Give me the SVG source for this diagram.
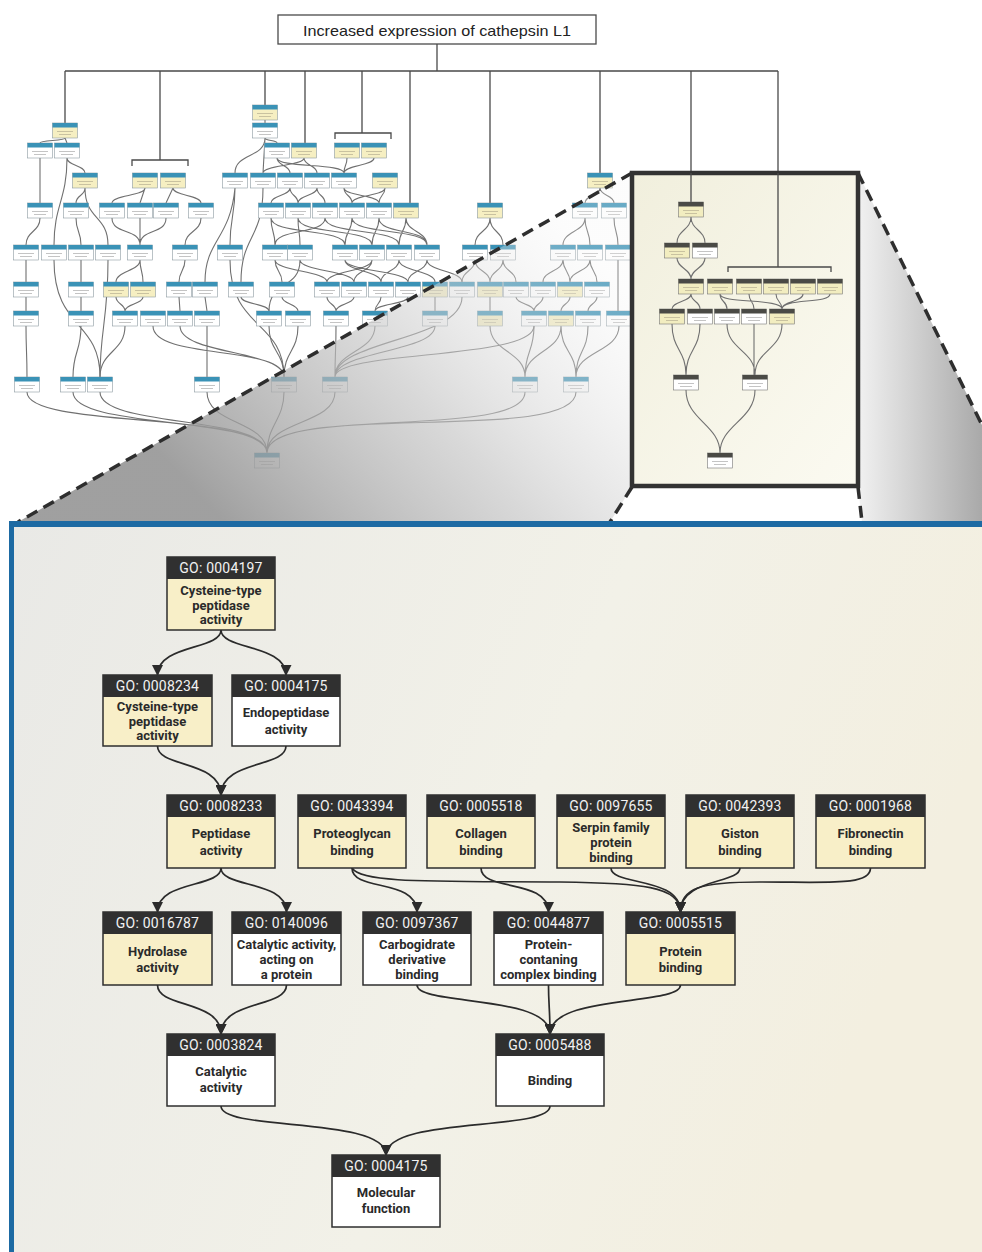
<svg xmlns="http://www.w3.org/2000/svg" xmlns:xlink="http://www.w3.org/1999/xlink" width="982" height="1252" viewBox="0 0 982 1252">
<style>
.ov{fill:none;stroke:#707070;stroke-width:1.1}
.tl{fill:none;stroke:#4a4a4a;stroke-width:1.3}
.cn{fill:none;stroke:#2b2b2b;stroke-width:1.7;marker-end:url(#ah)}
.hd{fill:#303030}
.by{fill:#f8efc8;stroke:#2e2e2e;stroke-width:1.5}
.bw{fill:#ffffff;stroke:#2e2e2e;stroke-width:1.5}
.ht{font-family:Roboto,"Liberation Sans",sans-serif;font-size:14px;fill:#f2f2f2;text-anchor:middle;dominant-baseline:central;letter-spacing:0.2px}
.bt{font-family:Roboto,"Liberation Sans",sans-serif;font-size:13px;font-weight:bold;fill:#2a2a2a;text-anchor:middle;dominant-baseline:central}
.dash{fill:none;stroke:#2e2e2e;stroke-width:3.5;stroke-dasharray:12 7}
</style>
<defs>
<marker id="ah" markerUnits="userSpaceOnUse" markerWidth="11" markerHeight="11" refX="10" refY="5.5" orient="auto"><path d="M0,0 L11,5.5 L0,11 z" fill="#2b2b2b"/></marker>
<g id="mw"><rect x="-12.5" y="0" width="25" height="15" fill="#ffffff" stroke="#8c9aa0" stroke-width="0.6"/><rect x="-12.5" y="0" width="25" height="4.5" fill="#3a92b6"/><path d="M-8 8.5h16M-6 11.5h12" stroke="#c4c4c4" stroke-width="1"/></g>
<g id="my"><rect x="-12.5" y="0" width="25" height="15" fill="#f6efc2" stroke="#8c9aa0" stroke-width="0.6"/><rect x="-12.5" y="0" width="25" height="4.5" fill="#3a92b6"/><path d="M-8 8.5h16M-6 11.5h12" stroke="#c9c2a0" stroke-width="1"/></g>
<g id="iw"><rect x="-12.5" y="0" width="25" height="15" fill="#ffffff" stroke="#777" stroke-width="0.6"/><rect x="-12.5" y="0" width="25" height="4.5" fill="#4a4a45"/><path d="M-8 8.5h16M-6 11.5h12" stroke="#c4c4c4" stroke-width="1"/></g>
<g id="iy"><rect x="-12.5" y="0" width="25" height="15" fill="#f2edc0" stroke="#777" stroke-width="0.6"/><rect x="-12.5" y="0" width="25" height="4.5" fill="#4a4a45"/><path d="M-8 8.5h16M-6 11.5h12" stroke="#c9c2a0" stroke-width="1"/></g>
<linearGradient id="gl" gradientUnits="userSpaceOnUse" x1="590" y1="250" x2="260" y2="560"><stop offset="0" stop-color="#f4f4f4" stop-opacity="0.25"/><stop offset="0.5" stop-color="#c4c4c4" stop-opacity="0.65"/><stop offset="1" stop-color="#8f8f8f" stop-opacity="0.85"/></linearGradient>
<linearGradient id="gr" gradientUnits="userSpaceOnUse" x1="860" y1="0" x2="982" y2="0"><stop offset="0" stop-color="#f0f0f0"/><stop offset="1" stop-color="#a9a9a9"/></linearGradient>
<linearGradient id="gi" x1="0" y1="0" x2="1" y2="1"><stop offset="0" stop-color="#f1efdd"/><stop offset="1" stop-color="#fbfaf1"/></linearGradient>
<linearGradient id="gp" x1="0" y1="0" x2="1" y2="0.3"><stop offset="0" stop-color="#e9e9e6"/><stop offset="0.6" stop-color="#f2f1e8"/><stop offset="1" stop-color="#f3efe0"/></linearGradient>
</defs>
<rect x="0" y="0" width="982" height="1252" fill="#ffffff"/>

<!-- overview -->
<g id="title">
<rect x="278" y="15" width="318" height="29" fill="#ffffff" stroke="#4a4a4a" stroke-width="1.3"/>
<text x="437" y="30" font-family="'Liberation Sans',Arial,sans-serif" font-size="15" fill="#222" text-anchor="middle" dominant-baseline="central" textLength="268" lengthAdjust="spacingAndGlyphs">Increased expression of cathepsin L1</text>
</g>
<g id="overview-tree">
<path class="tl" d="M437 44V71M65 71H778M65 71V123M160 71V160M132 166V160H188V166M265 71V105M305 71V143M362 71V133M335 139V133H391V139M410 71V203M490 71V203M600 71V173M691 71V202M778 71V267M728 272V267H831V272"/>
</g>
<g id="overview-connectors">
<path class="ov" d="M65 138C65 141 40 140 40 143M65 138L67 143M40 158V203M67 158C67 166 85 165 85 173M67 158C67 200 54 205 54 245M85 188C85 196 76 195 76 203M85 188C85 220 108 215 108 245M40 218C40 232 26 231 26 245M76 218C76 232 81 231 81 245M26 260V282M26 297V311M26 326C26 350 27 352 27 377M81 260V282M81 297V311M81 326C81 352 73 351 73 377M54 260C54 330 100 320 100 377M108 260C108 320 100 330 100 377"/>
<path class="ov" d="M145 188C145 196 112 195 112 203M145 188L140 203M173 188L166 203M173 188C173 196 201 195 201 203M112 218C112 235 140 228 140 245M140 218V245M166 218C166 235 140 228 140 245M201 218C201 232 185 231 185 245M140 260C140 271 143 271 143 282M140 260C140 271 116 271 116 282M185 260C185 271 179 271 179 282M116 297C116 304 125 304 125 311M143 297C143 304 125 304 125 311M179 297L180 311M205 297L207 311M125 326C125 352 100 351 100 377M153 326C153 360 284 345 284 377M180 326C180 355 284 350 284 377M207 326V377"/>
<path class="ov" d="M265 120V123M265 138C265 158 235 153 235 173M265 138L263 173M265 138C265 141 277 140 277 143M277 158C277 166 290 165 290 173M277 158C277 168 344 163 344 173M304 158C304 166 317 165 317 173M304 158C304 166 263 165 263 173M347 158C347 166 344 165 344 173M374 158C374 166 344 165 344 173M235 188C235 216 230 217 230 245M235 188C230 240 205 240 205 282M263 188C263 240 241 235 241 282M290 188C290 196 271 195 271 203M290 188C290 196 298 195 298 203M317 188C317 196 298 195 298 203M317 188C317 196 325 195 325 203M344 188C344 196 352 195 352 203M344 188C344 196 379 195 379 203M385 188C385 196 379 195 379 203M385 188C385 196 352 195 352 203"/>
<path class="ov" d="M271 218C271 232 275 231 275 245M271 218C271 235 345 228 345 245M298 218C298 232 300 231 300 245M298 218C298 235 372 228 372 245M325 218C325 235 275 228 275 245M325 218C325 235 399 228 399 245M352 218C352 232 345 231 345 245M352 218C352 235 427 228 427 245M379 218C379 232 372 231 372 245M379 218C379 235 427 228 427 245M406 218C406 232 399 231 399 245M406 218C406 232 427 231 427 245M230 260C230 330 284 320 284 377M275 260C275 271 282 271 282 282M275 260C275 271 327 271 327 282M300 260C300 271 354 271 354 282M300 260C300 290 269 280 269 311M345 260C345 271 381 271 381 282M345 260C345 271 408 271 408 282M372 260C372 271 327 271 327 282M372 260C372 271 354 271 354 282M399 260C399 271 381 271 381 282M399 260C399 271 435 271 435 282M427 260C427 271 462 271 462 282M427 260C427 271 408 271 408 282"/>
<path class="ov" d="M241 297C241 304 269 304 269 311M282 297C282 304 298 304 298 311M327 297C327 304 336 304 336 311M354 297C354 304 336 304 336 311M381 297C381 304 375 304 375 311M408 297C408 304 375 304 375 311M435 297V311M462 297C462 340 335 340 335 377M269 326C269 352 284 351 284 377M298 326C298 352 284 351 284 377M336 326C336 352 335 351 335 377M375 326C375 352 335 351 335 377M435 326C435 352 335 351 335 377M534 326C534 360 335 350 335 377"/>
<path class="ov" d="M490 218C490 232 475 231 475 245M490 218C490 232 503 231 503 245M475 260C475 271 462 271 462 282M475 260C475 271 490 271 490 282M503 260C503 271 490 271 490 282M503 260C503 271 516 271 516 282M490 297V311M516 297C516 304 534 304 534 311M600 188C600 196 585 195 585 203M600 188C600 196 614 195 614 203M585 218C585 232 563 231 563 245M585 218C585 232 590 231 590 245M614 218C614 232 618 231 618 245M563 260C563 271 543 271 543 282M563 260C563 271 570 271 570 282M590 260C590 271 570 271 570 282M590 260C590 271 597 271 597 282M618 260V311M543 297C543 304 534 304 534 311M570 297C570 304 561 304 561 311M597 297C597 304 588 304 588 311M490 326C490 352 525 351 525 377M534 326C534 352 525 351 525 377M561 326C561 352 525 351 525 377M561 326C561 352 576 351 576 377M588 326C588 352 576 351 576 377M619 326C619 352 576 351 576 377"/>
<path class="ov" d="M27 392C27 430 267 410 267 453M73 392C73 430 267 415 267 453M100 392C100 428 267 415 267 453M207 392C207 425 267 420 267 453M284 392C284 420 267 425 267 453M335 392C335 425 267 420 267 453M525 392C525 440 267 405 267 453M576 392C576 445 267 400 267 453"/>
</g>
<g id="overview-nodes">
<use href="#my" x="265" y="105"/><use href="#my" x="65" y="123"/><use href="#mw" x="265" y="123"/>
<use href="#mw" x="40" y="143"/><use href="#mw" x="67" y="143"/><use href="#mw" x="277" y="143"/><use href="#my" x="304" y="143"/><use href="#my" x="347" y="143"/><use href="#my" x="374" y="143"/>
<use href="#my" x="85" y="173"/><use href="#my" x="145" y="173"/><use href="#my" x="173" y="173"/><use href="#mw" x="235" y="173"/><use href="#mw" x="263" y="173"/><use href="#mw" x="290" y="173"/><use href="#mw" x="317" y="173"/><use href="#mw" x="344" y="173"/><use href="#my" x="385" y="173"/><use href="#my" x="600" y="173"/>
<use href="#mw" x="40" y="203"/><use href="#mw" x="76" y="203"/><use href="#mw" x="112" y="203"/><use href="#mw" x="140" y="203"/><use href="#mw" x="166" y="203"/><use href="#mw" x="201" y="203"/><use href="#mw" x="271" y="203"/><use href="#mw" x="298" y="203"/><use href="#mw" x="325" y="203"/><use href="#mw" x="352" y="203"/><use href="#mw" x="379" y="203"/><use href="#my" x="406" y="203"/><use href="#my" x="490" y="203"/><use href="#mw" x="585" y="203"/><use href="#mw" x="614" y="203"/>
<use href="#mw" x="26" y="245"/><use href="#mw" x="54" y="245"/><use href="#mw" x="81" y="245"/><use href="#mw" x="108" y="245"/><use href="#mw" x="140" y="245"/><use href="#mw" x="185" y="245"/><use href="#mw" x="230" y="245"/><use href="#mw" x="275" y="245"/><use href="#mw" x="300" y="245"/><use href="#mw" x="345" y="245"/><use href="#mw" x="372" y="245"/><use href="#mw" x="399" y="245"/><use href="#mw" x="427" y="245"/><use href="#mw" x="475" y="245"/><use href="#mw" x="503" y="245"/><use href="#mw" x="563" y="245"/><use href="#mw" x="590" y="245"/><use href="#mw" x="618" y="245"/>
<use href="#mw" x="26" y="282"/><use href="#mw" x="81" y="282"/><use href="#my" x="116" y="282"/><use href="#my" x="143" y="282"/><use href="#mw" x="179" y="282"/><use href="#mw" x="205" y="282"/><use href="#mw" x="241" y="282"/><use href="#mw" x="282" y="282"/><use href="#mw" x="327" y="282"/><use href="#mw" x="354" y="282"/><use href="#mw" x="381" y="282"/><use href="#mw" x="408" y="282"/><use href="#my" x="435" y="282"/><use href="#mw" x="462" y="282"/><use href="#my" x="490" y="282"/><use href="#mw" x="516" y="282"/><use href="#mw" x="543" y="282"/><use href="#my" x="570" y="282"/><use href="#mw" x="597" y="282"/>
<use href="#mw" x="26" y="311"/><use href="#mw" x="81" y="311"/><use href="#mw" x="125" y="311"/><use href="#mw" x="153" y="311"/><use href="#mw" x="180" y="311"/><use href="#mw" x="207" y="311"/><use href="#mw" x="269" y="311"/><use href="#mw" x="298" y="311"/><use href="#mw" x="336" y="311"/><use href="#mw" x="375" y="311"/><use href="#mw" x="435" y="311"/><use href="#my" x="490" y="311"/><use href="#mw" x="534" y="311"/><use href="#my" x="561" y="311"/><use href="#mw" x="588" y="311"/><use href="#mw" x="619" y="311"/>
<use href="#mw" x="27" y="377"/><use href="#mw" x="73" y="377"/><use href="#mw" x="100" y="377"/><use href="#mw" x="207" y="377"/><use href="#mw" x="284" y="377"/><use href="#mw" x="335" y="377"/><use href="#mw" x="525" y="377"/><use href="#mw" x="576" y="377"/>
<use href="#mw" x="267" y="453"/>
</g>

<!-- projection shading -->
<g id="projection">
<polygon points="632,173 18,522 610,522 632,487" fill="url(#gl)"/>
<polygon points="858,173 982,425 982,522 862,522 858,487" fill="url(#gr)"/>
<path class="dash" d="M632 173L18 522M632 487L610 522M858 173L982 425M858 487L862 522"/>
</g>

<!-- inset -->
<g id="inset">
<rect x="632" y="173" width="226" height="313" fill="url(#gi)" stroke="#333" stroke-width="4.5"/>
<path class="tl" d="M691 173V202M778 173V267M728 272V267H831V272"/>
<path class="ov" d="M691 217C691 230 677 230 677 243M691 217C691 230 705 230 705 243M677 258C677 268 691 269 691 279M705 258C705 268 691 269 691 279M691 294C691 302 672 301 672 309M691 294C691 302 700 301 700 309M720 294C720 302 727 301 727 309M720 294C720 304 782 298 782 309M749 294C749 302 754 301 754 309M776 294C776 302 782 301 782 309M803 294C803 302 782 301 782 309M830 294C830 304 782 298 782 309M672 324C672 350 686 350 686 375M700 324C700 350 686 350 686 375M727 324C727 350 755 350 755 375M754 324V375M782 324C782 350 755 350 755 375M686 390C686 420 720 425 720 453M755 390C755 420 720 425 720 453"/>
<use href="#iy" x="691" y="202"/>
<use href="#iy" x="677" y="243"/><use href="#iw" x="705" y="243"/>
<use href="#iy" x="691" y="279"/><use href="#iy" x="720" y="279"/><use href="#iy" x="749" y="279"/><use href="#iy" x="776" y="279"/><use href="#iy" x="803" y="279"/><use href="#iy" x="830" y="279"/>
<use href="#iy" x="672" y="309"/><use href="#iw" x="700" y="309"/><use href="#iw" x="727" y="309"/><use href="#iw" x="754" y="309"/><use href="#iy" x="782" y="309"/>
<use href="#iw" x="686" y="375"/><use href="#iw" x="755" y="375"/>
<use href="#iw" x="720" y="453"/>
</g>

<!-- detail panel -->
<g id="panel">
<rect x="10" y="522" width="972" height="730" fill="url(#gp)"/>
<rect x="10" y="521" width="972" height="6" fill="#1d6aa3"/>
<rect x="9" y="521" width="5" height="731" fill="#1d6aa3"/>
</g>

<g id="connectors">
<path class="cn" d="M221 630C221 650 157.5 644 157.5 675"/>
<path class="cn" d="M221 630C221 650 286 644 286 675"/>
<path class="cn" d="M157.5 746C157.5 768 221 760 221 795"/>
<path class="cn" d="M286 746C286 768 221 760 221 795"/>
<path class="cn" d="M221 868C221 888 157.5 880 157.5 912"/>
<path class="cn" d="M221 868C221 888 286.5 880 286.5 912"/>
<path class="cn" d="M352 868C352 892 417 878 417 912"/>
<path class="cn" d="M352 868C362 884 440 881 560 882C640 883 680.5 886 680.5 912"/>
<path class="cn" d="M481 868C481 892 548.5 878 548.5 912"/>
<path class="cn" d="M611 868C611 886 680.5 876 680.5 912"/>
<path class="cn" d="M740 868C740 884 680.5 878 680.5 912"/>
<path class="cn" d="M870.5 868C870.5 886 830 882 760 882C700 882 680.5 888 680.5 912"/>
<path class="cn" d="M157.5 985C157.5 1008 221 1000 221 1034"/>
<path class="cn" d="M286.5 985C286.5 1008 221 1000 221 1034"/>
<path class="cn" d="M417 985C417 1006 550 994 550 1034"/>
<path class="cn" d="M548.5 985C548.5 1005 550 1010 550 1034"/>
<path class="cn" d="M680.5 985C680.5 1006 550 994 550 1034"/>
<path class="cn" d="M221 1106C221 1132 386 1116 386 1155"/>
<path class="cn" d="M550 1106C550 1132 386 1116 386 1155"/>
</g>

<g id="n0004197"><rect class="by" x="167" y="557" width="108" height="73"/><rect class="hd" x="167" y="557" width="108" height="22"/><text class="ht" x="221" y="568">GO: 0004197</text><text class="bt"><tspan x="221" y="590">Cysteine-type</tspan><tspan x="221" y="604.5">peptidase</tspan><tspan x="221" y="619">activity</tspan></text></g>
<g id="n0008234"><rect class="by" x="103" y="675" width="109" height="71"/><rect class="hd" x="103" y="675" width="109" height="22"/><text class="ht" x="157.5" y="686">GO: 0008234</text><text class="bt"><tspan x="157.5" y="706">Cysteine-type</tspan><tspan x="157.5" y="720.5">peptidase</tspan><tspan x="157.5" y="735">activity</tspan></text></g>
<g id="n0004175a"><rect class="bw" x="232" y="675" width="108" height="71"/><rect class="hd" x="232" y="675" width="108" height="22"/><text class="ht" x="286" y="686">GO: 0004175</text><text class="bt"><tspan x="286" y="712">Endopeptidase</tspan><tspan x="286" y="729">activity</tspan></text></g>
<g id="n0008233"><rect class="by" x="167" y="795" width="108" height="73"/><rect class="hd" x="167" y="795" width="108" height="22"/><text class="ht" x="221" y="806">GO: 0008233</text><text class="bt"><tspan x="221" y="833">Peptidase</tspan><tspan x="221" y="850">activity</tspan></text></g>
<g id="n0043394"><rect class="by" x="298" y="795" width="108" height="73"/><rect class="hd" x="298" y="795" width="108" height="22"/><text class="ht" x="352" y="806">GO: 0043394</text><text class="bt"><tspan x="352" y="833">Proteoglycan</tspan><tspan x="352" y="850">binding</tspan></text></g>
<g id="n0005518"><rect class="by" x="427" y="795" width="108" height="73"/><rect class="hd" x="427" y="795" width="108" height="22"/><text class="ht" x="481" y="806">GO: 0005518</text><text class="bt"><tspan x="481" y="833">Collagen</tspan><tspan x="481" y="850">binding</tspan></text></g>
<g id="n0097655"><rect class="by" x="557" y="795" width="108" height="73"/><rect class="hd" x="557" y="795" width="108" height="22"/><text class="ht" x="611" y="806">GO: 0097655</text><text class="bt"><tspan x="611" y="827">Serpin family</tspan><tspan x="611" y="842">protein</tspan><tspan x="611" y="857">binding</tspan></text></g>
<g id="n0042393"><rect class="by" x="686" y="795" width="108" height="73"/><rect class="hd" x="686" y="795" width="108" height="22"/><text class="ht" x="740" y="806">GO: 0042393</text><text class="bt"><tspan x="740" y="833">Giston</tspan><tspan x="740" y="850">binding</tspan></text></g>
<g id="n0001968"><rect class="by" x="816" y="795" width="109" height="73"/><rect class="hd" x="816" y="795" width="109" height="22"/><text class="ht" x="870.5" y="806">GO: 0001968</text><text class="bt"><tspan x="870.5" y="833">Fibronectin</tspan><tspan x="870.5" y="850">binding</tspan></text></g>
<g id="n0016787"><rect class="by" x="103" y="912" width="109" height="73"/><rect class="hd" x="103" y="912" width="109" height="22"/><text class="ht" x="157.5" y="923">GO: 0016787</text><text class="bt"><tspan x="157.5" y="951">Hydrolase</tspan><tspan x="157.5" y="967">activity</tspan></text></g>
<g id="n0140096"><rect class="bw" x="232" y="912" width="109" height="73"/><rect class="hd" x="232" y="912" width="109" height="22"/><text class="ht" x="286.5" y="923">GO: 0140096</text><text class="bt"><tspan x="286.5" y="944">Catalytic activity,</tspan><tspan x="286.5" y="959">acting on</tspan><tspan x="286.5" y="974">a protein</tspan></text></g>
<g id="n0097367"><rect class="bw" x="363" y="912" width="108" height="73"/><rect class="hd" x="363" y="912" width="108" height="22"/><text class="ht" x="417" y="923">GO: 0097367</text><text class="bt"><tspan x="417" y="944">Carbogidrate</tspan><tspan x="417" y="959">derivative</tspan><tspan x="417" y="974">binding</tspan></text></g>
<g id="n0044877"><rect class="bw" x="494" y="912" width="109" height="73"/><rect class="hd" x="494" y="912" width="109" height="22"/><text class="ht" x="548.5" y="923">GO: 0044877</text><text class="bt"><tspan x="548.5" y="944">Protein-</tspan><tspan x="548.5" y="959">contaning</tspan><tspan x="548.5" y="974">complex binding</tspan></text></g>
<g id="n0005515"><rect class="by" x="626" y="912" width="109" height="73"/><rect class="hd" x="626" y="912" width="109" height="22"/><text class="ht" x="680.5" y="923">GO: 0005515</text><text class="bt"><tspan x="680.5" y="951">Protein</tspan><tspan x="680.5" y="967">binding</tspan></text></g>
<g id="n0003824"><rect class="bw" x="167" y="1034" width="108" height="72"/><rect class="hd" x="167" y="1034" width="108" height="22"/><text class="ht" x="221" y="1045">GO: 0003824</text><text class="bt"><tspan x="221" y="1071">Catalytic</tspan><tspan x="221" y="1087">activity</tspan></text></g>
<g id="n0005488"><rect class="bw" x="496" y="1034" width="108" height="72"/><rect class="hd" x="496" y="1034" width="108" height="22"/><text class="ht" x="550" y="1045">GO: 0005488</text><text class="bt"><tspan x="550" y="1080">Binding</tspan></text></g>
<g id="n0004175b"><rect class="bw" x="332" y="1155" width="108" height="72"/><rect class="hd" x="332" y="1155" width="108" height="22"/><text class="ht" x="386" y="1166">GO: 0004175</text><text class="bt"><tspan x="386" y="1192">Molecular</tspan><tspan x="386" y="1208">function</tspan></text></g>
</svg>
